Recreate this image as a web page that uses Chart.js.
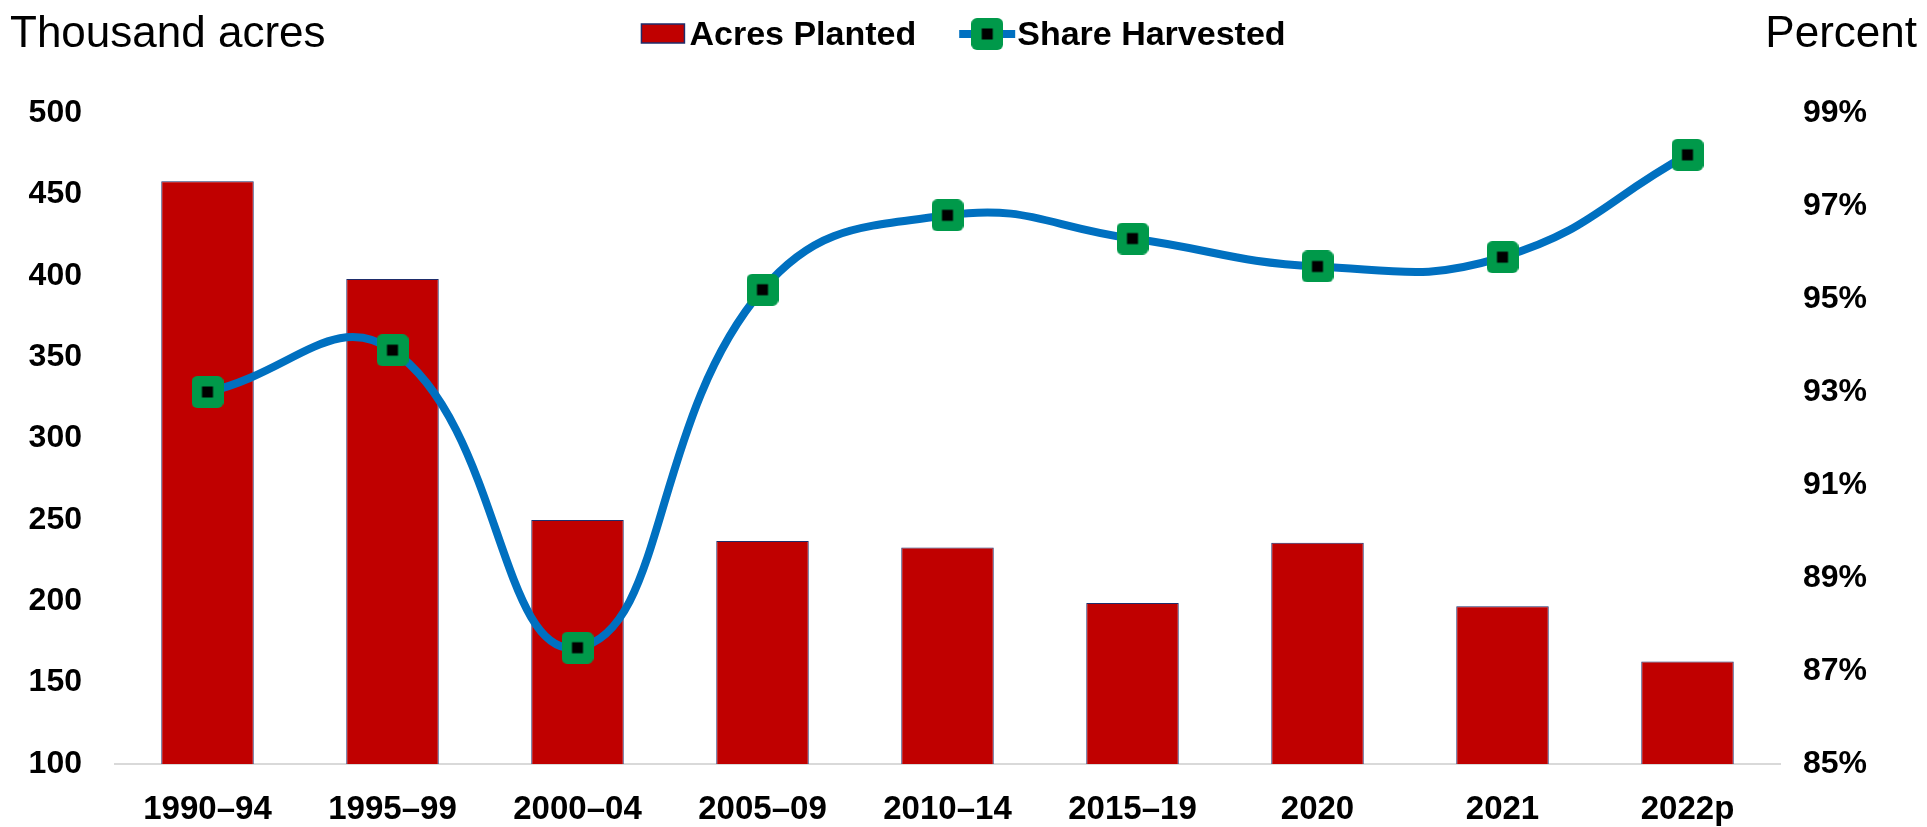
<!DOCTYPE html>
<html>
<head>
<meta charset="utf-8">
<script src="https://cdn.jsdelivr.net/npm/chart.js@4.4.0/dist/chart.umd.min.js"></script>
<style>
  html, body { margin: 0; padding: 0; background: #fff; }
</style>
</head>
<body>
<canvas id="myChart" width="1927" height="827"></canvas>
<script>
// data
const categories = ['1990–94', '1995–99', '2000–04', '2005–09', '2010–14', '2015–19', '2020', '2021', '2022p'];
const acresPlanted = [458, 398, 250, 237, 233, 199, 236, 197, 163];
const shareHarvested = [93.0, 93.9, 87.5, 95.2, 96.8, 96.3, 95.7, 95.9, 98.1];
const acresTicks = [100, 150, 200, 250, 300, 350, 400, 450, 500];
const percentTicks = [85, 87, 89, 91, 93, 95, 97, 99];
const seriesNames = ['Acres Planted', 'Share Harvested'];
const leftTitle = 'Thousand acres';
const rightTitle = 'Percent';

const FONT = '"Liberation Sans", Arial, Helvetica, sans-serif';
const barColor = '#c00000';
const barBorder = '#1f2d6b';
const lineColor = '#0070c0';
const markerGreen = '#00994a';

// green rounded square marker with black centre
function makeMarker(size, inner) {
  const c = document.createElement('canvas');
  c.width = size; c.height = size;
  const g = c.getContext('2d');
  const r = size * 0.18;
  g.fillStyle = markerGreen;
  g.beginPath();
  g.moveTo(r, 0);
  g.arcTo(size, 0, size, size, r);
  g.arcTo(size, size, 0, size, r);
  g.arcTo(0, size, 0, 0, r);
  g.arcTo(0, 0, size, 0, r);
  g.closePath();
  g.fill();
  g.fillStyle = '#000';
  const o = (size - inner) / 2;
  g.fillRect(o, o, inner, inner);
  return c;
}
const marker = makeMarker(32, 11);

const headerPlugin = {
  id: 'header',
  afterDraw(chart) {
    const ctx = chart.ctx;
    ctx.save();
    ctx.fillStyle = '#000';
    ctx.textBaseline = 'alphabetic';
    ctx.font = '44px ' + FONT;
    ctx.textAlign = 'left';
    ctx.fillText(leftTitle, 10, 47);
    ctx.textAlign = 'right';
    ctx.fillText(rightTitle, chart.width - 10, 47);

    // legend
    ctx.font = 'bold 34px ' + FONT;
    ctx.textAlign = 'left';
    const w1 = ctx.measureText(seriesNames[0]).width;
    const w2 = ctx.measureText(seriesNames[1]).width;
    const total = 43 + 5 + w1 + 43 + 56 + 2 + w2;
    let x = (chart.width - total) / 2;
    const cy = 34;
    ctx.fillStyle = barColor;
    ctx.fillRect(x, 24, 43, 19);
    ctx.strokeStyle = barBorder;
    ctx.lineWidth = 1.5;
    ctx.strokeRect(x, 24, 43, 19);
    x += 48;
    ctx.fillStyle = '#000';
    ctx.fillText(seriesNames[0], x, 45);
    x += w1 + 43;
    ctx.strokeStyle = lineColor;
    ctx.lineWidth = 8;
    ctx.beginPath();
    ctx.moveTo(x, cy);
    ctx.lineTo(x + 56, cy);
    ctx.stroke();
    ctx.drawImage(marker, x + 28 - marker.width / 2, cy - marker.height / 2);
    x += 58;
    ctx.fillStyle = '#000';
    ctx.fillText(seriesNames[1], x, 45);
    ctx.restore();
  }
};

const ctx = document.getElementById('myChart').getContext('2d');

const harvestChart = new Chart(ctx, {
  type: 'bar',
  data: {
    labels: categories,
    datasets: [
      {
        type: 'line',
        label: seriesNames[1],
        data: shareHarvested,
        yAxisID: 'y1',
        borderColor: lineColor,
        borderWidth: 8,
        tension: 0.45,
        pointStyle: marker,
        pointRadius: 16,
        order: 0
      },
      {
        type: 'bar',
        label: seriesNames[0],
        data: acresPlanted,
        yAxisID: 'y',
        backgroundColor: barColor,
        borderColor: barBorder,
        borderWidth: 1,
        barPercentage: 0.5,
        categoryPercentage: 1.0,
        order: 1
      }
    ]
  },
  plugins: [headerPlugin],
  options: {
    responsive: false,
    devicePixelRatio: 1,
    animation: false,
    layout: { padding: { top: 113, left: 0, right: 0, bottom: 0 } },
    plugins: {
      legend: { display: false },
      tooltip: { enabled: false }
    },
    scales: {
      x: {
        grid: { display: false, drawTicks: false },
        border: { display: true, color: '#d9d9d9', width: 2 },
        ticks: { color: '#000', font: { family: FONT, size: 33, weight: 'bold' }, padding: 26, maxRotation: 0 },
        afterFit: s => { s.height = 63; }
      },
      y: {
        position: 'left',
        min: 100,
        max: 500,
        grid: { display: false, drawTicks: false },
        border: { display: false },
        ticks: { color: '#000', font: { family: FONT, size: 32, weight: 'bold' }, padding: 33 },
        afterBuildTicks: s => { s.ticks = acresTicks.map(v => ({ value: v })); },
        afterFit: s => { s.width = 115; }
      },
      y1: {
        position: 'right',
        min: 85,
        max: 99,
        grid: { display: false, drawTicks: false },
        border: { display: false },
        ticks: {
          color: '#000',
          font: { family: FONT, size: 32, weight: 'bold' },
          padding: 23,
          callback: v => v + '%'
        },
        afterBuildTicks: s => { s.ticks = percentTicks.map(v => ({ value: v })); },
        afterFit: s => { s.width = 147; }
      }
    }
  }
});
</script>
</body>
</html>
